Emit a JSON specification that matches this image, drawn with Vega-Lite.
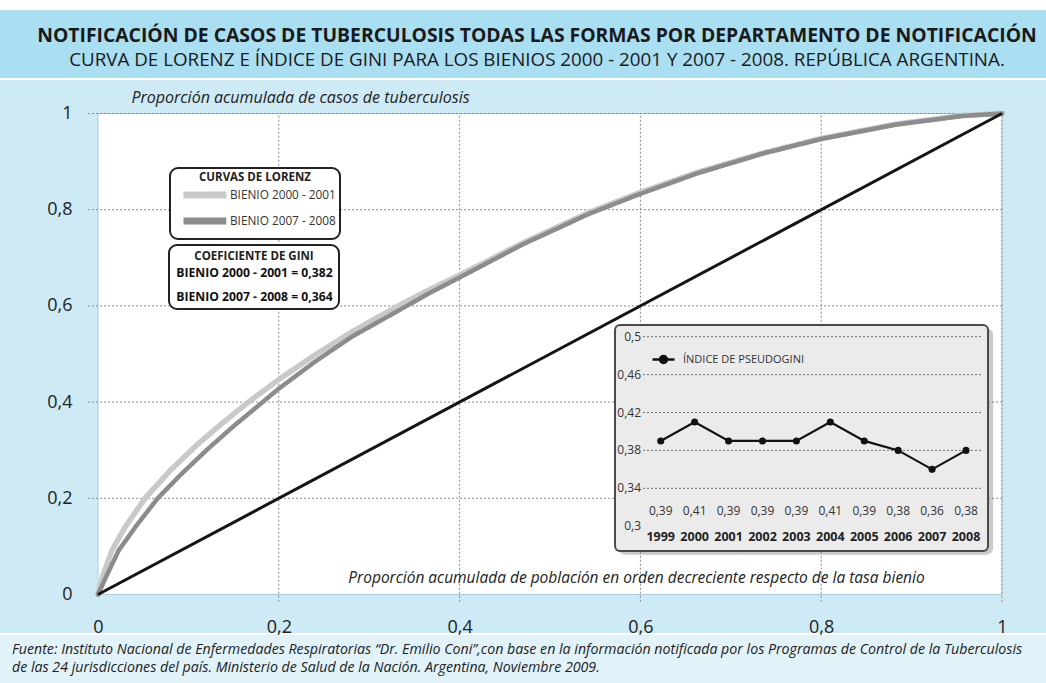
{
  "$schema": "https://vega.github.io/schema/vega-lite/v6.json",
  "background": "white",
  "padding": {"top": 10, "left": 0, "right": 0, "bottom": 0},
  "spacing": 2,
  "bounds": "flush",
  "config": {
    "view": {"stroke": null},
    "font": "Open Sans",
    "legend": {"strokeWidth": 2},
    "locale": {"number": {"decimal": ",", "thousands": ".", "grouping": [3], "currency": ["$", ""]}}
  },
  "datasets": {
    "lorenz": [
      {"bienio": "BIENIO 2000 - 2001", "x": 0, "y": 0},
      {"bienio": "BIENIO 2000 - 2001", "x": 0.005, "y": 0.037},
      {"bienio": "BIENIO 2000 - 2001", "x": 0.0155, "y": 0.092},
      {"bienio": "BIENIO 2000 - 2001", "x": 0.03, "y": 0.14},
      {"bienio": "BIENIO 2000 - 2001", "x": 0.052, "y": 0.2},
      {"bienio": "BIENIO 2000 - 2001", "x": 0.08, "y": 0.258},
      {"bienio": "BIENIO 2000 - 2001", "x": 0.11, "y": 0.312},
      {"bienio": "BIENIO 2000 - 2001", "x": 0.14, "y": 0.36},
      {"bienio": "BIENIO 2000 - 2001", "x": 0.167, "y": 0.401},
      {"bienio": "BIENIO 2000 - 2001", "x": 0.2, "y": 0.447},
      {"bienio": "BIENIO 2000 - 2001", "x": 0.24, "y": 0.498},
      {"bienio": "BIENIO 2000 - 2001", "x": 0.28, "y": 0.545},
      {"bienio": "BIENIO 2000 - 2001", "x": 0.33, "y": 0.598},
      {"bienio": "BIENIO 2000 - 2001", "x": 0.367, "y": 0.634},
      {"bienio": "BIENIO 2000 - 2001", "x": 0.402, "y": 0.666},
      {"bienio": "BIENIO 2000 - 2001", "x": 0.47, "y": 0.731},
      {"bienio": "BIENIO 2000 - 2001", "x": 0.544, "y": 0.795},
      {"bienio": "BIENIO 2000 - 2001", "x": 0.6, "y": 0.836},
      {"bienio": "BIENIO 2000 - 2001", "x": 0.662, "y": 0.877},
      {"bienio": "BIENIO 2000 - 2001", "x": 0.736, "y": 0.918},
      {"bienio": "BIENIO 2000 - 2001", "x": 0.8, "y": 0.948},
      {"bienio": "BIENIO 2000 - 2001", "x": 0.883, "y": 0.978},
      {"bienio": "BIENIO 2000 - 2001", "x": 0.957, "y": 0.996},
      {"bienio": "BIENIO 2000 - 2001", "x": 1, "y": 1},
      {"bienio": "BIENIO 2007 - 2008", "x": 0, "y": 0},
      {"bienio": "BIENIO 2007 - 2008", "x": 0.009, "y": 0.037},
      {"bienio": "BIENIO 2007 - 2008", "x": 0.023, "y": 0.092},
      {"bienio": "BIENIO 2007 - 2008", "x": 0.042, "y": 0.142},
      {"bienio": "BIENIO 2007 - 2008", "x": 0.066, "y": 0.2},
      {"bienio": "BIENIO 2007 - 2008", "x": 0.092, "y": 0.25},
      {"bienio": "BIENIO 2007 - 2008", "x": 0.12, "y": 0.3},
      {"bienio": "BIENIO 2007 - 2008", "x": 0.15, "y": 0.35},
      {"bienio": "BIENIO 2007 - 2008", "x": 0.177, "y": 0.392},
      {"bienio": "BIENIO 2007 - 2008", "x": 0.2, "y": 0.428},
      {"bienio": "BIENIO 2007 - 2008", "x": 0.24, "y": 0.484},
      {"bienio": "BIENIO 2007 - 2008", "x": 0.28, "y": 0.535},
      {"bienio": "BIENIO 2007 - 2008", "x": 0.334, "y": 0.592},
      {"bienio": "BIENIO 2007 - 2008", "x": 0.367, "y": 0.627},
      {"bienio": "BIENIO 2007 - 2008", "x": 0.402, "y": 0.661},
      {"bienio": "BIENIO 2007 - 2008", "x": 0.47, "y": 0.728},
      {"bienio": "BIENIO 2007 - 2008", "x": 0.544, "y": 0.792},
      {"bienio": "BIENIO 2007 - 2008", "x": 0.6, "y": 0.833},
      {"bienio": "BIENIO 2007 - 2008", "x": 0.662, "y": 0.875},
      {"bienio": "BIENIO 2007 - 2008", "x": 0.736, "y": 0.917},
      {"bienio": "BIENIO 2007 - 2008", "x": 0.8, "y": 0.947},
      {"bienio": "BIENIO 2007 - 2008", "x": 0.883, "y": 0.977},
      {"bienio": "BIENIO 2007 - 2008", "x": 0.957, "y": 0.995},
      {"bienio": "BIENIO 2007 - 2008", "x": 1, "y": 1}
    ],
    "gini": [
      {"bienio": "BIENIO 2000 - 2001", "gini": "BIENIO 2000 - 2001 = 0,382"},
      {"bienio": "BIENIO 2007 - 2008", "gini": "BIENIO 2007 - 2008 = 0,364"}
    ],
    "pseudogini": [
      {"year": 1999, "v": 0.39},
      {"year": 2000, "v": 0.41},
      {"year": 2001, "v": 0.39},
      {"year": 2002, "v": 0.39},
      {"year": 2003, "v": 0.39},
      {"year": 2004, "v": 0.41},
      {"year": 2005, "v": 0.39},
      {"year": 2006, "v": 0.38},
      {"year": 2007, "v": 0.36},
      {"year": 2008, "v": 0.38}
    ],
    "gridx": [{"v": 0.2}, {"v": 0.4}, {"v": 0.6}, {"v": 0.8}, {"v": 1}],
    "gridy": [{"v": 0.2}, {"v": 0.4}, {"v": 0.6}, {"v": 0.8}, {"v": 1}],
    "insety": [{"v": 0.3}, {"v": 0.34}, {"v": 0.38}, {"v": 0.42}, {"v": 0.46}, {"v": 0.5}]
  },
  "vconcat": [
    {
      "width": 1046,
      "height": 68,
      "view": {"fill": "#aadef1", "stroke": null},
      "layer": [
        {
          "data": {"values": [{"t": "NOTIFICACIÓN DE CASOS DE TUBERCULOSIS TODAS LAS FORMAS POR DEPARTAMENTO DE NOTIFICACIÓN"}]},
          "mark": {"type": "text", "fontWeight": "bold", "fontSize": 19.35, "color": "#1a1a1a", "dx": 14, "dy": -8, "baseline": "middle"},
          "encoding": {"text": {"field": "t"}}
        },
        {
          "data": {"values": [{"t": "CURVA DE LORENZ E ÍNDICE DE GINI PARA LOS BIENIOS 2000 - 2001 Y  2007 - 2008. REPÚBLICA ARGENTINA."}]},
          "mark": {"type": "text", "fontWeight": "normal", "fontSize": 18.8, "color": "#1a1a1a", "dx": 14, "dy": 16, "baseline": "middle"},
          "encoding": {"text": {"field": "t"}}
        }
      ]
    },
    {
      "width": 1046,
      "height": 553,
      "view": {"fill": "#cdeaf5", "stroke": null},
      "resolve": {"scale": {"x": "independent", "y": "independent", "color": "independent"}},
      "layer": [
        {
          "layer": [
            {
              "data": {"values": [{}]},
              "mark": {"type": "rect", "fill": "white", "stroke": "#a8cde0", "strokeWidth": 1},
              "encoding": {
                "x": {
                  "datum": 0, "type": "quantitative",
                  "scale": {"domain": [-0.108407, 1.048673], "nice": false, "zero": false},
                  "axis": {
                    "values": [0, 0.2, 0.4, 0.6, 0.8, 1], "format": "~g", "orient": "bottom", "offset": -15,
                    "domain": false, "ticks": false, "grid": false, "labelPadding": 0, "labelBaseline": "top",
                    "labelFontSize": 18, "labelColor": "#222", "labelFlush": false, "labelOverlap": false, "zindex": 2,
                    "title": "Proporción acumulada de población en orden decreciente respecto de la tasa bienio",
                    "titleFontStyle": "italic", "titleFontWeight": "normal", "titleFontSize": 15.5, "titleColor": "#222",
                    "titleX": 636, "titleY": -41, "titleAlign": "center", "titleBaseline": "middle", "titleAngle": 0
                  }
                },
                "x2": {"datum": 1},
                "y": {
                  "datum": 0, "type": "quantitative",
                  "scale": {"domain": [-0.08004, 1.06965], "nice": false, "zero": false},
                  "axis": {
                    "values": [0, 0.2, 0.4, 0.6, 0.8, 1], "format": "~g", "orient": "left", "offset": -74,
                    "domain": false, "ticks": false, "grid": false, "labelPadding": 2,
                    "labelFontSize": 18, "labelColor": "#222", "labelFlush": false, "labelOverlap": false,
                    "title": "Proporción acumulada de casos de tuberculosis",
                    "titleFontStyle": "italic", "titleFontWeight": "normal", "titleFontSize": 16, "titleColor": "#222",
                    "titleX": 226, "titleY": 17, "titleAlign": "center", "titleBaseline": "middle", "titleAngle": 0
                  }
                },
                "y2": {"datum": 1}
              }
            },
            {
              "data": {"name": "gridy"},
              "mark": {"type": "rule", "color": "#8a8a8a", "strokeWidth": 1, "strokeDash": [2, 2]},
              "encoding": {
                "y": {"field": "v", "type": "quantitative"},
                "x": {"datum": -0.011},
                "x2": {"datum": 1}
              }
            },
            {
              "data": {"name": "gridx"},
              "mark": {"type": "rule", "color": "#8a8a8a", "strokeWidth": 1, "strokeDash": [2, 2]},
              "encoding": {
                "x": {"field": "v", "type": "quantitative"},
                "y": {"datum": -0.015},
                "y2": {"datum": 1}
              }
            },
            {
              "data": {"name": "lorenz"},
              "transform": [{"lookup": "bienio", "from": {"data": {"name": "gini"}, "key": "bienio", "fields": ["gini"]}}],
              "mark": {"type": "line", "strokeJoin": "round", "strokeCap": "round"},
              "encoding": {
                "x": {"field": "x", "type": "quantitative"},
                "y": {"field": "y", "type": "quantitative"},
                "color": {
                  "field": "bienio", "type": "nominal",
                  "scale": {"domain": ["BIENIO 2000 - 2001", "BIENIO 2007 - 2008"], "range": ["#c9c9c9", "#8c8c8c"]},
                  "legend": {
                    "orient": "none", "legendX": 170, "legendY": 88,
                    "title": "CURVAS DE LORENZ", "titleFontWeight": "bold", "titleFontSize": 11.5, "titleColor": "#222",
                    "titleAnchor": "middle", "titlePadding": 0,
                    "labelFontSize": 11.8, "labelColor": "#333", "labelLimit": 300, "labelOffset": 33,
                    "symbolType": "M-0.25,0H5.1", "symbolSize": 256, "symbolStrokeWidth": 7,
                    "rowPadding": -5, "padding": 4,
                    "strokeColor": "#222", "cornerRadius": 8, "fillColor": "white"
                  }
                },
                "strokeWidth": {
                  "field": "bienio", "type": "nominal",
                  "scale": {"domain": ["BIENIO 2000 - 2001", "BIENIO 2007 - 2008"], "range": [5.5, 4.5]},
                  "legend": null
                },
                "strokeDash": {
                  "field": "gini", "type": "nominal",
                  "scale": {"range": [[1, 0], [1, 0]]},
                  "legend": {
                    "orient": "none", "legendX": 169, "legendY": 235,
                    "title": "COEFICIENTE DE GINI", "titleFontWeight": "bold", "titleFontSize": 11.5, "titleColor": "#222",
                    "titleAnchor": "middle", "titlePadding": 4,
                    "labelFontSize": 12.2, "labelFontWeight": "bold", "labelColor": "#111", "labelLimit": 300, "labelOffset": -11,
                    "symbolSize": 0, "symbolOpacity": 0,
                    "rowPadding": 11, "padding": 6,
                    "strokeColor": "#222", "cornerRadius": 8, "fillColor": "white"
                  }
                }
              }
            },
            {
              "data": {"values": [{}]},
              "mark": {"type": "rule", "color": "#151515", "strokeWidth": 3},
              "encoding": {
                "x": {"datum": 0},
                "y": {"datum": 0},
                "x2": {"datum": 1},
                "y2": {"datum": 1}
              }
            }
          ]
        },
        {
          "layer": [
            {
              "data": {"values": [{}]},
              "mark": {"type": "rect", "fill": "#6a6a6a", "opacity": 0.35, "cornerRadius": 7},
              "encoding": {
                "x": {"datum": 1997.75, "type": "quantitative", "scale": {"domain": [1979.522, 2010.358], "nice": false, "zero": false}, "axis": null},
                "x2": {"datum": 2008.8},
                "y": {"datum": 0.2698, "type": "quantitative", "scale": {"domain": [0.1873, 0.7709], "nice": false, "zero": false}, "axis": null},
                "y2": {"datum": 0.5088}
              }
            },
            {
              "data": {"values": [{}]},
              "mark": {"type": "rect", "fill": "#ebebeb", "stroke": "#4a4a4a", "strokeWidth": 2, "cornerRadius": 5},
              "encoding": {
                "x": {"datum": 1997.653},
                "x2": {"datum": 2008.649},
                "y": {"datum": 0.2738},
                "y2": {"datum": 0.5123}
              }
            },
            {
              "data": {"name": "insety"},
              "transform": [{"filter": "datum.v > 0.31"}],
              "mark": {"type": "rule", "color": "#707070", "strokeWidth": 1, "strokeDash": [2, 2]},
              "encoding": {
                "y": {"field": "v", "type": "quantitative"},
                "x": {"datum": 1998.478},
                "x2": {"datum": 2008.472}
              }
            },
            {
              "data": {"name": "insety"},
              "mark": {"type": "text", "align": "right", "baseline": "middle", "fontSize": 12, "color": "#333"},
              "encoding": {
                "y": {"field": "v", "type": "quantitative"},
                "x": {"datum": 1998.42},
                "text": {"field": "v", "type": "quantitative", "format": "~g"}
              }
            },
            {
              "data": {"name": "pseudogini"},
              "mark": {"type": "line", "strokeWidth": 2.2},
              "encoding": {
                "x": {"field": "year", "type": "quantitative"},
                "y": {"field": "v", "type": "quantitative"},
                "color": {
                  "datum": "ÍNDICE DE PSEUDOGINI",
                  "scale": {"range": ["#111111"]},
                  "legend": {
                    "orient": "none", "legendX": 651, "legendY": 267, "title": null, "padding": 0,
                    "symbolType": "M-1,0H1M0.32,0A0.32,0.32,0,1,1,-0.32,0A0.32,0.32,0,1,1,0.32,0",
                    "symbolSize": 484, "symbolStrokeWidth": 2.5, "symbolStrokeColor": "#111", "symbolFillColor": "#111",
                    "labelOffset": 7, "labelFontSize": 11, "labelColor": "#333"
                  }
                }
              }
            },
            {
              "data": {"name": "pseudogini"},
              "mark": {"type": "point", "filled": true, "size": 50, "color": "#111", "opacity": 1},
              "encoding": {
                "x": {"field": "year", "type": "quantitative"},
                "y": {"field": "v", "type": "quantitative"}
              }
            },
            {
              "data": {"name": "pseudogini"},
              "mark": {"type": "text", "baseline": "middle", "fontSize": 12, "color": "#333"},
              "encoding": {
                "x": {"field": "year", "type": "quantitative"},
                "y": {"datum": 0.3164},
                "text": {"field": "v", "type": "quantitative", "format": ".2f"}
              }
            },
            {
              "data": {"name": "pseudogini"},
              "mark": {"type": "text", "baseline": "middle", "fontSize": 12.5, "fontWeight": "bold", "color": "#222"},
              "encoding": {
                "x": {"field": "year", "type": "quantitative"},
                "y": {"datum": 0.2889},
                "text": {"field": "year", "type": "nominal"}
              }
            }
          ]
        }
      ]
    },
    {
      "width": 1046,
      "height": 48,
      "view": {"fill": "#e1f2f9", "stroke": null},
      "data": {"values": [{"t": "Fuente: Instituto Nacional de Enfermedades Respiratorias “Dr. Emilio Coni”,con base en la información notificada por los Programas de Control de la Tuberculosis\nde las 24 jurisdicciones del país. Ministerio de Salud de la Nación. Argentina, Noviembre 2009."}]},
      "mark": {"type": "text", "align": "left", "baseline": "middle", "dx": -511, "dy": -9, "lineBreak": "\n", "lineHeight": 18, "fontStyle": "italic", "fontSize": 14.2, "color": "#222"},
      "encoding": {"text": {"field": "t"}}
    }
  ]
}
